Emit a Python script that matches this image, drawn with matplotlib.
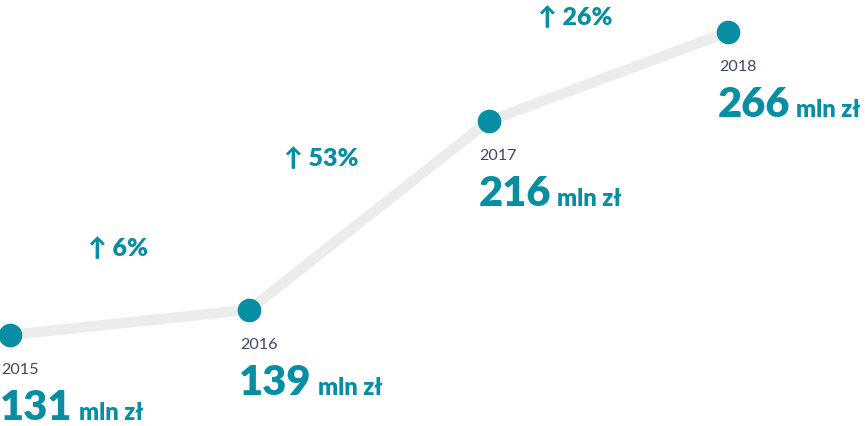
import matplotlib.pyplot as plt

years = [2015, 2016, 2017, 2018]
revenue = [131, 139, 216, 266]  # mln zł
growth_labels = ['↑ 6%', '↑ 53%', '↑ 26%']

TEAL = '#078ea3'
LINE_GRAY = '#ececec'
YEAR_COLOR = '#3d4768'

# label offsets (pixels) relative to segment midpoints
growth_offsets = [(-12, 73), (-48, 57), (-33, 59)]

fig = plt.figure(figsize=(8.65, 4.26), dpi=100)
ax = fig.add_axes([0, 0, 1, 1])
ax.set_yscale('log')
ax.set_xlim(2014.958, 2018.573)
ax.set_ylim(105.9, 286.7)
ax.axis('off')

ax.plot(years, revenue, color=LINE_GRAY, lw=7.5, solid_capstyle='round', zorder=1)
ax.plot(years, revenue, 'o', color=TEAL, ms=16, zorder=2, clip_on=False)

fig.canvas.draw()
renderer = fig.canvas.get_renderer()
for yr, val in zip(years, revenue):
    ax.annotate(str(yr), xy=(yr, val), xytext=(-9, -39), textcoords='offset pixels',
                fontsize=11.6, family='Lato', color=YEAR_COLOR, va='baseline')
    num = ax.annotate(str(val), xy=(yr, val), xytext=(-10, -85), textcoords='offset pixels',
                      fontsize=30, family='Lato', weight='heavy', color=TEAL, va='baseline')
    w = num.get_window_extent(renderer).width
    ax.annotate('mln zł', xy=(yr, val), xytext=(-10 + w + 6, -85), textcoords='offset pixels',
                fontsize=17, family='Lato', weight='heavy', color=TEAL, va='baseline')

for i, lab in enumerate(growth_labels):
    xm = (years[i] + years[i + 1]) / 2
    ym = (revenue[i] * revenue[i + 1]) ** 0.5
    ax.annotate(lab, xy=(xm, ym), xytext=growth_offsets[i], textcoords='offset pixels',
                fontsize=18, family=['Lato', 'DejaVu Sans'], weight='heavy', color=TEAL,
                ha='center', va='center')

fig.savefig('out.png', dpi=100)
